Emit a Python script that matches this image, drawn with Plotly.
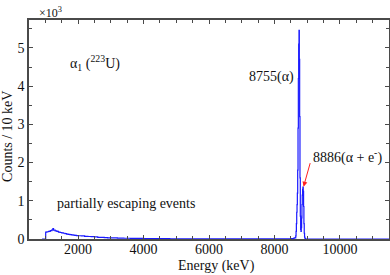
import plotly.graph_objects as go

# Energy (keV) and counts (x10^3 per 10 keV)
energy = [900, 1000, 1010, 1050, 1100, 1150, 1200, 1230, 1250, 1300, 1350, 1400, 1450, 1500,
          1550, 1600, 1650, 1700, 1750, 1800, 1850, 1900, 1950, 2000, 2100, 2200,
          2300, 2400, 2500, 2600, 2700, 2800, 2900, 3000, 3200, 3400, 3600, 3800,
          4000, 4200, 4400, 4600, 4800, 5000, 6000, 7000, 8000, 8500, 8600, 8650,
          8660, 8670, 8680, 8690, 8700, 8710, 8720, 8730, 8740, 8750, 8760, 8770,
          8780, 8790, 8800, 8810, 8820, 8830, 8840, 8850, 8860, 8870, 8880, 8890,
          8900, 8910, 8920, 8930, 8940, 8950, 9500, 11500]
counts = [0.0, 0.0, 0.18, 0.19, 0.2, 0.22, 0.24, 0.27, 0.23, 0.21, 0.2, 0.18, 0.17, 0.16,
          0.15, 0.14, 0.13, 0.12, 0.115, 0.11, 0.1, 0.095, 0.09, 0.085, 0.08, 0.07,
          0.065, 0.06, 0.055, 0.045, 0.04, 0.035, 0.03, 0.028, 0.025, 0.02, 0.018, 0.015,
          0.013, 0.012, 0.01, 0.008, 0.006, 0.005, 0.003, 0.003, 0.005, 0.01, 0.03, 0.08,
          0.2, 0.4, 0.7, 0.9, 1.2, 1.8, 2.9, 4.2, 5.1, 5.46, 4.7, 3.2,
          1.6, 0.6, 0.25, 0.2, 0.3, 0.55, 0.9, 1.15, 1.3, 1.36, 1.25, 0.85,
          0.4, 0.15, 0.05, 0.02, 0.01, 0.0, 0.0, 0.0]

x_ticks = [2000, 4000, 6000, 8000, 10000]
y_ticks = [0, 1, 2, 3, 4, 5]

font = "Liberation Serif, Times New Roman, serif"
axis_col = "#4a4a4a"
txt_col = "#111111"

fig = go.Figure()
fig.add_trace(go.Scatter(x=energy, y=counts, mode="lines",
                         line=dict(color="#1a1aff", width=1.2, shape="hv"),
                         showlegend=False, hoverinfo="skip"))

axis_common = dict(showline=True, linecolor=axis_col, linewidth=1.5, mirror="ticks",
                   ticks="inside", ticklen=4, tickwidth=1, tickcolor=axis_col,
                   showgrid=False, zeroline=False, automargin=False,
                   tickfont=dict(family=font, size=14, color=txt_col))

fig.update_xaxes(range=[500, 11500], tickvals=x_ticks, tickformat="d", ticklabelstandoff=-4,
                 minor=dict(dtick=500, tick0=0, ticks="inside", ticklen=3, tickcolor=axis_col),
                 **axis_common)
fig.update_yaxes(range=[0, 5.73], tickvals=y_ticks,
                 minor=dict(dtick=0.5, tick0=0, ticks="inside", ticklen=3, tickcolor=axis_col),
                 **axis_common)

title_font = dict(family=font, size=14, color=txt_col)
fig.add_annotation(xref="paper", yref="paper", x=0.5, y=0, xshift=7, yshift=-27,
                   text="Energy (keV)", showarrow=False, xanchor="center", yanchor="middle",
                   font=title_font)
fig.add_annotation(xref="paper", yref="paper", x=0, y=0.466, xshift=-21,
                   text="Counts / 10 keV", showarrow=False, textangle=-90,
                   xanchor="center", yanchor="middle", font=title_font)

ann_font = dict(family=font, size=14, color=txt_col)
fig.add_annotation(xref="paper", yref="paper", x=0.022, y=1.032, yanchor="middle", xanchor="left",
                   text="×10<sup>3</sup>", showarrow=False,
                   font=dict(family=font, size=12, color=txt_col))
fig.add_annotation(x=1690, y=4.6, text="α<sub>1</sub> (<sup>223</sup>U)", showarrow=False,
                   xanchor="left", yanchor="middle", font=ann_font)
fig.add_annotation(x=8668, y=4.24, text="8755(α)", showarrow=False,
                   xanchor="right", yanchor="middle", font=ann_font)
fig.add_annotation(x=9116, y=2.16, text="8886(α + e<sup>-</sup>)", showarrow=False,
                   xanchor="left", yanchor="middle", font=ann_font)
fig.add_annotation(x=1290, y=0.94, text="partially escaping events", showarrow=False,
                   xanchor="left", yanchor="middle", font=ann_font)
fig.add_annotation(x=8890, y=1.37, ax=7, ay=-25, text="", showarrow=True,
                   arrowhead=2, arrowsize=1, arrowwidth=1, arrowcolor="#ff2020")

fig.update_layout(width=390, height=275, margin=dict(l=29, r=1, t=20, b=36),
                  paper_bgcolor="white", plot_bgcolor="white",
                  font=dict(family=font))
# remove the browser's default body margin so the figure fills the window
fig.write_html("out.html", config={"displayModeBar": False},
               post_script="document.body.style.margin='0';document.body.style.overflow='hidden';")
